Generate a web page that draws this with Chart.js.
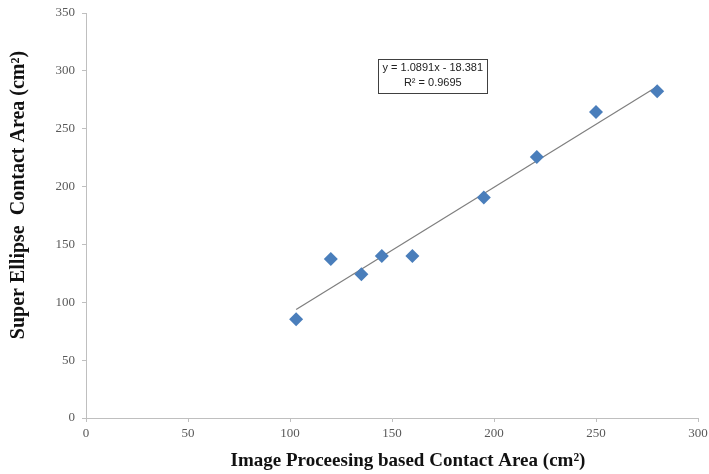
<!DOCTYPE html>
<html>
<head>
<meta charset="utf-8">
<script src="https://cdn.jsdelivr.net/npm/chart.js@4.4.0/dist/chart.umd.min.js"></script>
<style>
html,body{margin:0;padding:0;background:#fff;}
#wrap{width:709px;height:474px;position:relative;}
</style>
</head>
<body>
<div id="wrap"><canvas id="c"></canvas></div>
<script>
const imageArea = [103, 120, 135, 145, 160, 195, 221, 250, 280];
const superEllipseArea = [85.4, 137.3, 124.3, 140, 140, 190.6, 225.5, 264.4, 282.3];
const trendSlope = 1.0891;
const trendIntercept = -18.381;
const rSquared = 0.9695;
const xTicks = [0, 50, 100, 150, 200, 250, 300];
const yTicks = [0, 50, 100, 150, 200, 250, 300, 350];
const xTitle = 'Image Proceesing based Contact Area (cm\u00B2)';
const yTitle = 'Super Ellipse  Contact Area (cm\u00B2)';

const points = imageArea.map((x, i) => ({x: x, y: superEllipseArea[i]}));
const xMin = Math.min(...imageArea), xMax = Math.max(...imageArea);
const trend = [xMin, xMax].map(x => ({x: x, y: trendSlope * x + trendIntercept}));

const SERIF = '"Liberation Serif", "Times New Roman", serif';

const eqPlugin = {
  id: 'eqBox',
  afterDatasetsDraw(chart) {
    const {ctx, scales} = chart;
    const cx = scales.x.getPixelForValue(170);
    const cy = scales.y.getPixelForValue(295.5);
    const w = 109, h = 34;
    ctx.save();
    ctx.fillStyle = '#ffffff';
    ctx.fillRect(cx - w/2, cy - h/2, w, h);
    ctx.strokeStyle = '#404040';
    ctx.lineWidth = 1;
    ctx.strokeRect(Math.round(cx - w/2) + 0.5, Math.round(cy - h/2) + 0.5, w, h);
    ctx.fillStyle = '#222';
    ctx.font = '11px "Liberation Sans", Arial, sans-serif';
    ctx.textAlign = 'center';
    ctx.textBaseline = 'middle';
    ctx.fillText('y = ' + trendSlope.toFixed(4) + 'x - ' + Math.abs(trendIntercept).toFixed(3), cx, cy - 8);
    ctx.fillText('R\u00B2 = ' + rSquared.toFixed(4), cx, cy + 7);
    ctx.restore();
  }
};

const titlePlugin = {
  id: 'axisTitles',
  afterDraw(chart) {
    const {ctx} = chart;
    ctx.save();
    ctx.fillStyle = '#111';
    ctx.textAlign = 'center';
    ctx.textBaseline = 'middle';
    ctx.font = 'bold 19px ' + SERIF;
    ctx.fillText(xTitle, 408, 461);
    ctx.translate(19, 195);
    ctx.rotate(-Math.PI / 2);
    ctx.font = 'bold 20px ' + SERIF;
    ctx.fillText(yTitle, 0, 0);
    ctx.restore();
  }
};

new Chart(document.getElementById('c'), {
  type: 'scatter',
  data: {
    datasets: [
      {
        label: 'Linear',
        type: 'line',
        data: trend,
        borderColor: '#7f7f7f',
        borderWidth: 1.2,
        pointRadius: 0,
        fill: false,
        order: 2
      },
      {
        label: 'Contact Area',
        data: points,
        pointStyle: 'rectRot',
        pointRadius: 7,
        pointHoverRadius: 7,
        backgroundColor: '#4a7ebb',
        borderColor: '#4a7ebb',
        borderWidth: 0,
        order: 1
      }
    ]
  },
  options: {
    responsive: true,
    maintainAspectRatio: false,
    animation: false,
    layout: {padding: {left: 0, right: 11, top: 13, bottom: 0}},
    plugins: {legend: {display: false}, tooltip: {enabled: false}},
    scales: {
      x: {
        type: 'linear',
        min: 0, max: 300,
        afterBuildTicks(scale) { scale.ticks = xTicks.map(v => ({value: v})); },
        afterFit(scale) { scale.height = 56; scale.paddingRight = 0; scale.paddingLeft = 0; },
        border: {color: '#bfbfbf', width: 1},
        grid: {display: true, drawOnChartArea: false, drawTicks: true, tickLength: 4, color: '#bfbfbf'},
        ticks: {color: '#595959', font: {family: SERIF, size: 13}, padding: 4, maxRotation: 0},
        title: {display: false}
      },
      y: {
        type: 'linear',
        min: 0, max: 350,
        afterBuildTicks(scale) { scale.ticks = yTicks.map(v => ({value: v})); },
        afterFit(scale) { scale.width = 86; scale.paddingTop = 0; scale.paddingBottom = 0; },
        border: {color: '#bfbfbf', width: 1},
        grid: {display: true, drawOnChartArea: false, drawTicks: true, tickLength: 4, color: '#bfbfbf'},
        ticks: {color: '#595959', font: {family: SERIF, size: 13}, padding: 7},
        title: {display: false}
      }
    }
  },
  plugins: [eqPlugin, titlePlugin]
});
</script>
</body>
</html>
